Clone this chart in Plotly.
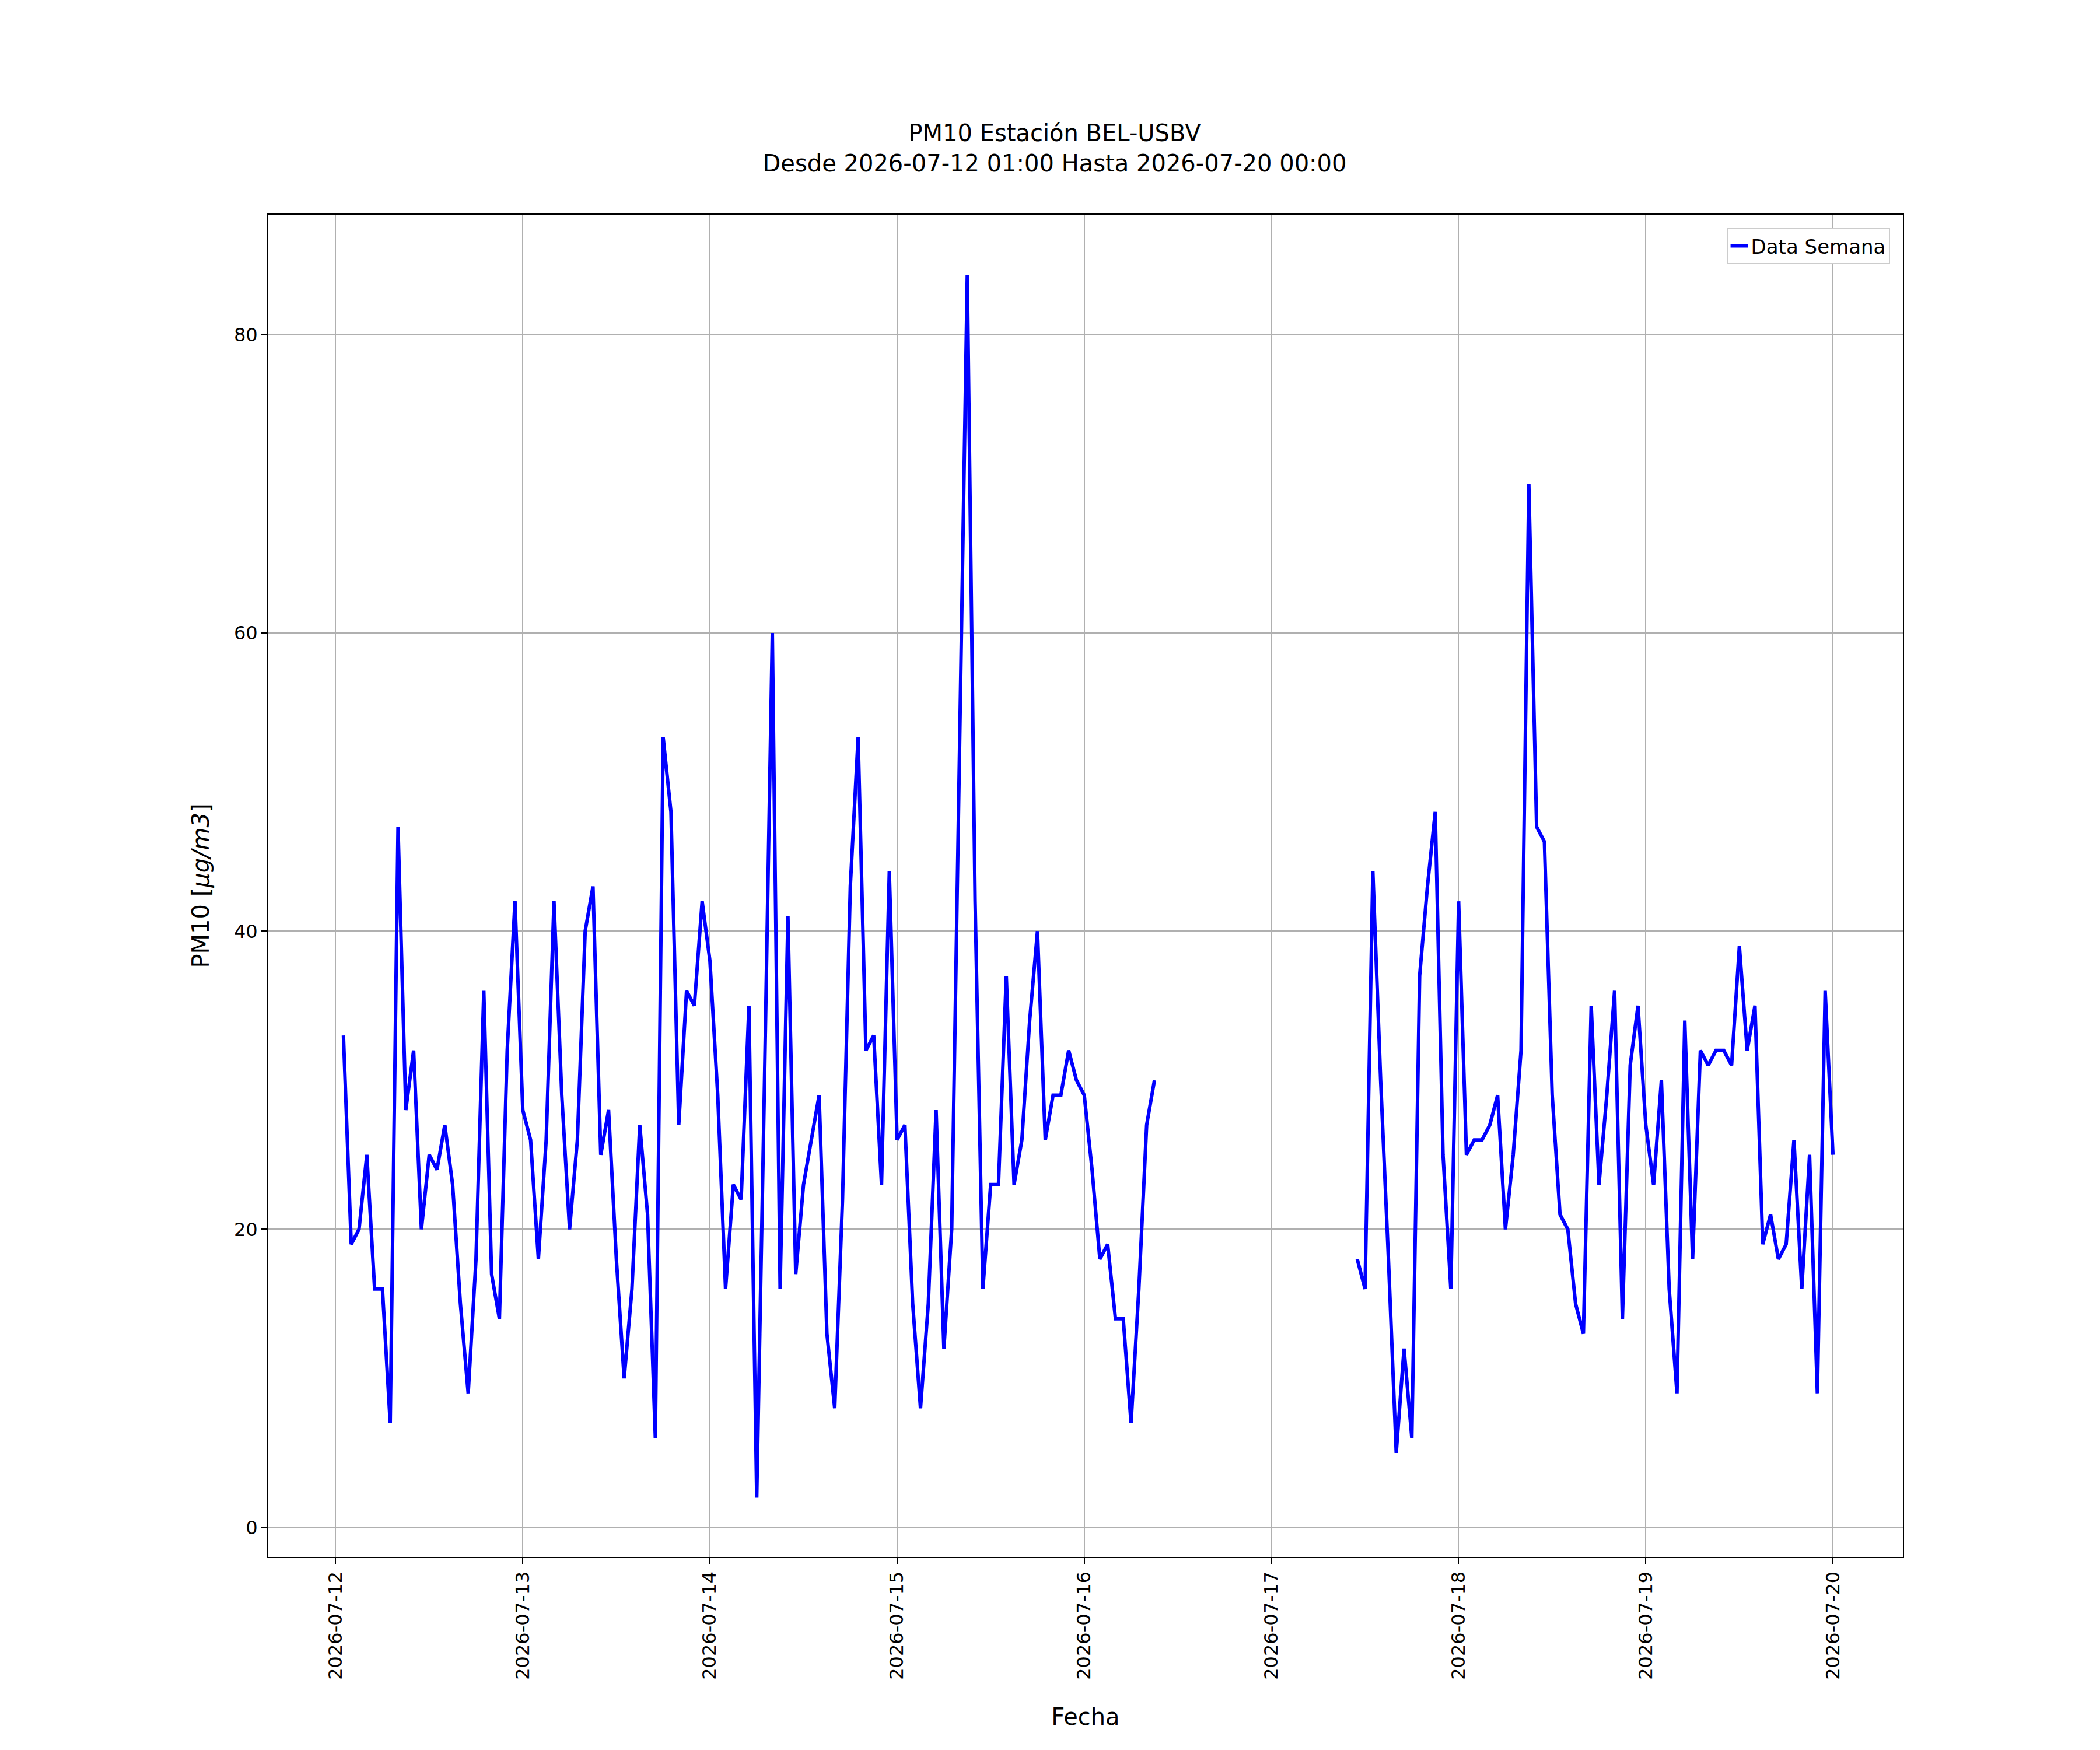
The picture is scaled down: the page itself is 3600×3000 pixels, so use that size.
import pandas as pd
import plotly.graph_objs as go

# hourly PM10 values, station BEL-USBV
seg1_start = '2026-07-12 01:00'
seg1_y = [33, 19, 20, 25, 16, 16, 7, 47, 28, 32, 20, 25, 24, 27, 23, 15, 9, 18, 36, 17, 14, 32, 42,
          28, 26, 18, 26, 42, 29, 20, 26, 40, 43, 25, 28, 18, 10, 16, 27, 21, 6, 53, 48, 27, 36, 35, 42,
          38, 29, 16, 23, 22, 35, 2, 30, 60, 16, 41, 17, 23, 26, 29, 13, 8, 22, 43, 53, 32, 33, 23, 44,
          26, 27, 15, 8, 15, 28, 12, 20, 52, 84, 42, 16, 23, 23, 37, 23, 26, 34, 40, 26, 29, 29, 32, 30,
          29, 24, 18, 19, 14, 14, 7, 16, 27, 30]
seg2_start = '2026-07-17 11:00'
seg2_y = [18, 16, 44, 30, 18, 5, 12, 6, 37, 43, 48, 25, 16,
          42, 25, 26, 26, 27, 29, 20, 25, 32, 70, 47, 46, 29, 21, 20, 15, 13, 35, 23, 29, 36, 14, 31, 35,
          27, 23, 30, 16, 9, 34, 18, 32, 31, 32, 32, 31, 39, 32, 35, 19, 21, 18, 19, 26, 16, 25, 9, 36,
          25]

t1 = pd.date_range(seg1_start, periods=len(seg1_y), freq='h')
t2 = pd.date_range(seg2_start, periods=len(seg2_y), freq='h')
gap = pd.date_range(t1[-1] + pd.Timedelta(hours=1), t2[0] - pd.Timedelta(hours=1), freq='h')

fecha = list(t1) + list(gap) + list(t2)
pm10 = seg1_y + [None] * len(gap) + seg2_y

semana = go.Scatter(x=fecha, y=pm10, name='Data Semana', mode='lines',
                    line=dict(color='#0000ff', width=6), connectgaps=False)

axis = dict(showline=True, linecolor='black', linewidth=2, mirror=True, ticks='outside',
            ticklen=10, tickwidth=2, tickcolor='black', showgrid=True, gridcolor='#b0b0b0',
            gridwidth=2, zeroline=False, tickfont=dict(size=32, color='black'))

fig = go.Figure(data=[semana])
fig.update_layout(
    width=3600, height=3000,
    font=dict(family='DejaVu Sans', color='black'),
    plot_bgcolor='white', paper_bgcolor='white',
    margin=dict(l=452, r=346, t=360, b=339),
    title=dict(text='PM10 Estación BEL-USBV<br>Desde 2026-07-12 01:00 Hasta 2026-07-20 00:00',
               x=0.5, xanchor='center', y=0.922, yanchor='top', font=dict(size=40)),
    showlegend=True,
    legend=dict(x=0.992, y=0.99, xanchor='right', yanchor='top', bgcolor='white',
                bordercolor='#cccccc', borderwidth=2, font=dict(size=34)),
    xaxis=dict(axis, range=['2026-07-11 15:22', '2026-07-20 08:58'], dtick=86400000,
               tickformat='%Y-%m-%d', tickangle=-90,
               title=dict(text='Fecha', font=dict(size=40), standoff=50)),
    yaxis=dict(axis, range=[-1.97, 88.06], dtick=20,
               title=dict(text='PM10 [<i>μg/m3</i>]', font=dict(size=40), standoff=30)),
)

fig.write_html('out.html')
